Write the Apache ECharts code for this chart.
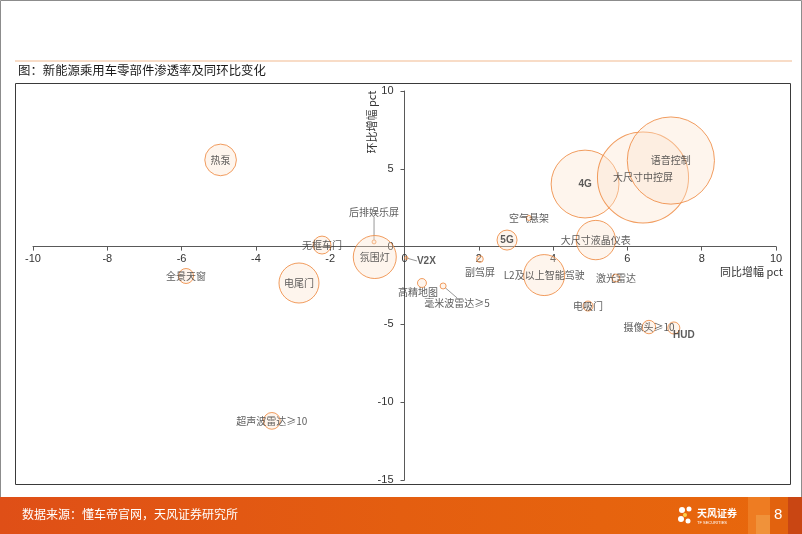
<!DOCTYPE html>
<html>
<head>
<meta charset="utf-8">
<script src="https://cdn.jsdelivr.net/npm/echarts@6/dist/echarts.min.js"></script>
<style>
html,body{margin:0;padding:0;background:#fff;}
#chart{width:802px;height:534px;}
</style>
</head>
<body>
<div id="chart"></div>
<script>
// ---- data ----
const names = ['热泵','后排娱乐屏','氛围灯','无框车门','全景天窗','电尾门','超声波雷达≥10','V2X','5G','副驾屏','空气悬架','大尺寸液晶仪表','L2及以上智能驾驶','激光雷达','高精地图','毫米波雷达≥5','电吸门','摄像头≥10','HUD','4G','大尺寸中控屏','语音控制'];
const yoyChange = [-4.95,-0.82,-0.8,-2.22,-5.88,-2.84,-3.57,0.05,2.76,2.03,3.35,5.15,3.76,5.69,0.47,1.04,4.94,6.58,7.25,4.86,6.42,7.17];
const momChange = [5.57,0.3,-0.67,0.1,-1.89,-2.34,-11.2,-0.73,0.42,-0.8,1.84,0.42,-1.83,-2.02,-2.34,-2.53,-3.82,-5.17,-5.23,4.02,4.44,5.53];
const penetration = [10,0.16,18.5,3.2,2.25,16,2.8,0.1,4,0.45,0.25,15.5,16.8,0.64,0.8,0.36,1,1.8,1.45,46,83,76];
const xTicks = {min:-10,max:10,interval:2};
const yTicks = {min:-15,max:10,interval:5};
const titleText = '图：新能源乘用车零部件渗透率及同环比变化';
const sourceText = '数据来源：懂车帝官网，天风证券研究所';
const xName = '同比增幅 pct';
const yName = '环比增幅 pct';
const pageNo = '8';

// ---- layout / style ----
const G = {left:33, right:26, top:91, bottom:54, W:802, H:534};
const plotW = G.W - G.left - G.right;
const plotH = G.H - G.top - G.bottom;
// move axes to cross at zero
const xAxisOffset = -plotH * (0 - yTicks.min) / (yTicks.max - yTicks.min);
const yAxisOffset = -plotW * (0 - xTicks.min) / (xTicks.max - xTicks.min);

const labelPlace = {
  '后排娱乐屏': {dx:0, dy:-30, line:true},
  'V2X': {dx:20, dy:3, line:true},
  '毫米波雷达≥5': {dx:14, dy:17, line:true},
  '高精地图': {dx:-4, dy:9},
  '副驾屏': {dx:0, dy:13},
  'HUD': {dx:10, dy:7}
};
const boldSans = ['5G','4G','HUD','V2X'];

const seriesData = names.map((n,i)=>{
  const item = {name:n, value:[yoyChange[i], momChange[i], penetration[i]]};
  const lp = labelPlace[n];
  if (boldSans.indexOf(n) >= 0) {
    item.label = {fontFamily:'Liberation Sans, Arial', fontWeight:'bold', fontSize:10, color:'#333'};
  }
  if (lp && lp.line) {
    item.labelLine = {show:true, lineStyle:{color:'#999', width:1}};
  }
  return item;
});

const chart = echarts.init(document.getElementById('chart'), null, {renderer:'canvas'});
const option = {
  animation:false,
  backgroundColor:'#fff',
  grid:{left:G.left, right:G.right, top:G.top, bottom:G.bottom},
  xAxis:{
    type:'value', min:xTicks.min, max:xTicks.max, interval:xTicks.interval,
    position:'bottom', offset:xAxisOffset,
    axisLine:{onZero:false, lineStyle:{color:'#595959', width:1}},
    axisTick:{show:true, length:4, lineStyle:{color:'#595959'}},
    axisLabel:{color:'#333', fontSize:11, fontFamily:'Liberation Sans, Arial', margin:7},
    splitLine:{show:false},
    name:xName, nameLocation:'end', nameGap:7,
    nameTextStyle:{align:'right', verticalAlign:'top', padding:[20,0,0,0], color:'#333', fontSize:11, fontFamily:'Noto Sans CJK SC'}
  },
  yAxis:{
    type:'value', min:yTicks.min, max:yTicks.max, interval:yTicks.interval,
    position:'left', offset:yAxisOffset,
    axisLine:{onZero:false, lineStyle:{color:'#595959', width:1}},
    axisTick:{show:true, length:4, lineStyle:{color:'#595959'}},
    axisLabel:{color:'#333', fontSize:11, fontFamily:'Liberation Sans, Arial', margin:11},
    splitLine:{show:false}
  },
  series:[{
    type:'scatter',
    data:seriesData,
    symbol:'circle',
    symbolSize:function(v){ return Math.max(2, 10*Math.sqrt(v[2])); },
    itemStyle:{color:'rgba(251,226,206,0.45)', borderColor:'#EE8438', borderWidth:1},
    label:{show:true, position:'inside', formatter:'{b}', color:'#333', fontSize:10, fontFamily:'Noto Sans CJK SC'},
    labelLayout:function(p){
      const lp = labelPlace[names[p.dataIndex]];
      if (lp) return {dx:lp.dx, dy:lp.dy};
      return {};
    },
    emphasis:{disabled:true}
  }],
  graphic:[
    {type:'rect', shape:{x:0.5,y:0.5,width:801,height:533}, style:{fill:'none', stroke:'#8c8c8c', lineWidth:1}, z:-10},
    {type:'line', shape:{x1:15,y1:61,x2:792,y2:61}, style:{stroke:'#F2B990', lineWidth:1.2}},
    {type:'text', left:18, top:64, style:{text:titleText, fill:'#1a1a1a', fontSize:12.4, fontFamily:'Noto Sans CJK SC'}},
    {type:'rect', shape:{x:15.5,y:83.5,width:775,height:401}, style:{fill:'none', stroke:'#3a3a3a', lineWidth:1}},
    {type:'text', x:372, y:122, rotation:Math.PI/2, style:{text:yName, fill:'#333', fontSize:11, fontFamily:'Noto Sans CJK SC', align:'center', verticalAlign:'middle'}},
    {type:'rect', shape:{x:0,y:497,width:802,height:37}, style:{fill:new echarts.graphic.LinearGradient(0,0,1,0,[{offset:0,color:'#DF4F17'},{offset:0.5,color:'#E45E10'},{offset:1,color:'#E8680C'}])}},
    {type:'rect', shape:{x:748,y:497,width:22,height:37}, style:{fill:'#EE7C22'}},
    {type:'rect', shape:{x:756,y:515,width:14,height:19}, style:{fill:'#F0923A'}},
    {type:'rect', shape:{x:770,y:497,width:18,height:37}, style:{fill:'#E2620E'}},
    {type:'rect', shape:{x:788,y:497,width:14,height:37}, style:{fill:'#C94613'}},
    {type:'text', left:22, top:508, style:{text:sourceText, fill:'#fff', fontSize:12, fontFamily:'Noto Sans CJK SC'}},
    {type:'circle', shape:{cx:682,cy:510,r:3}, style:{fill:'#fff'}},
    {type:'circle', shape:{cx:689,cy:509,r:2.5}, style:{fill:'#fff'}},
    {type:'circle', shape:{cx:681,cy:519,r:3}, style:{fill:'#fff'}},
    {type:'circle', shape:{cx:688,cy:521,r:2.5}, style:{fill:'#fff'}},
    {type:'circle', shape:{cx:685,cy:515,r:2}, style:{fill:'#FCD34D'}},
    {type:'text', left:697, top:508, style:{text:'天风证券', fill:'#fff', fontSize:10, fontWeight:'bold', fontFamily:'Noto Sans CJK SC'}},
    {type:'text', left:697, top:521, style:{text:'TF SECURITIES', fill:'#fff', fontSize:4, fontFamily:'Liberation Sans'}},
    {type:'text', left:774, top:507, style:{text:pageNo, fill:'#fff', fontSize:15, fontFamily:'Liberation Sans'}}
  ]
};
chart.setOption(option);
</script>
</body>
</html>
